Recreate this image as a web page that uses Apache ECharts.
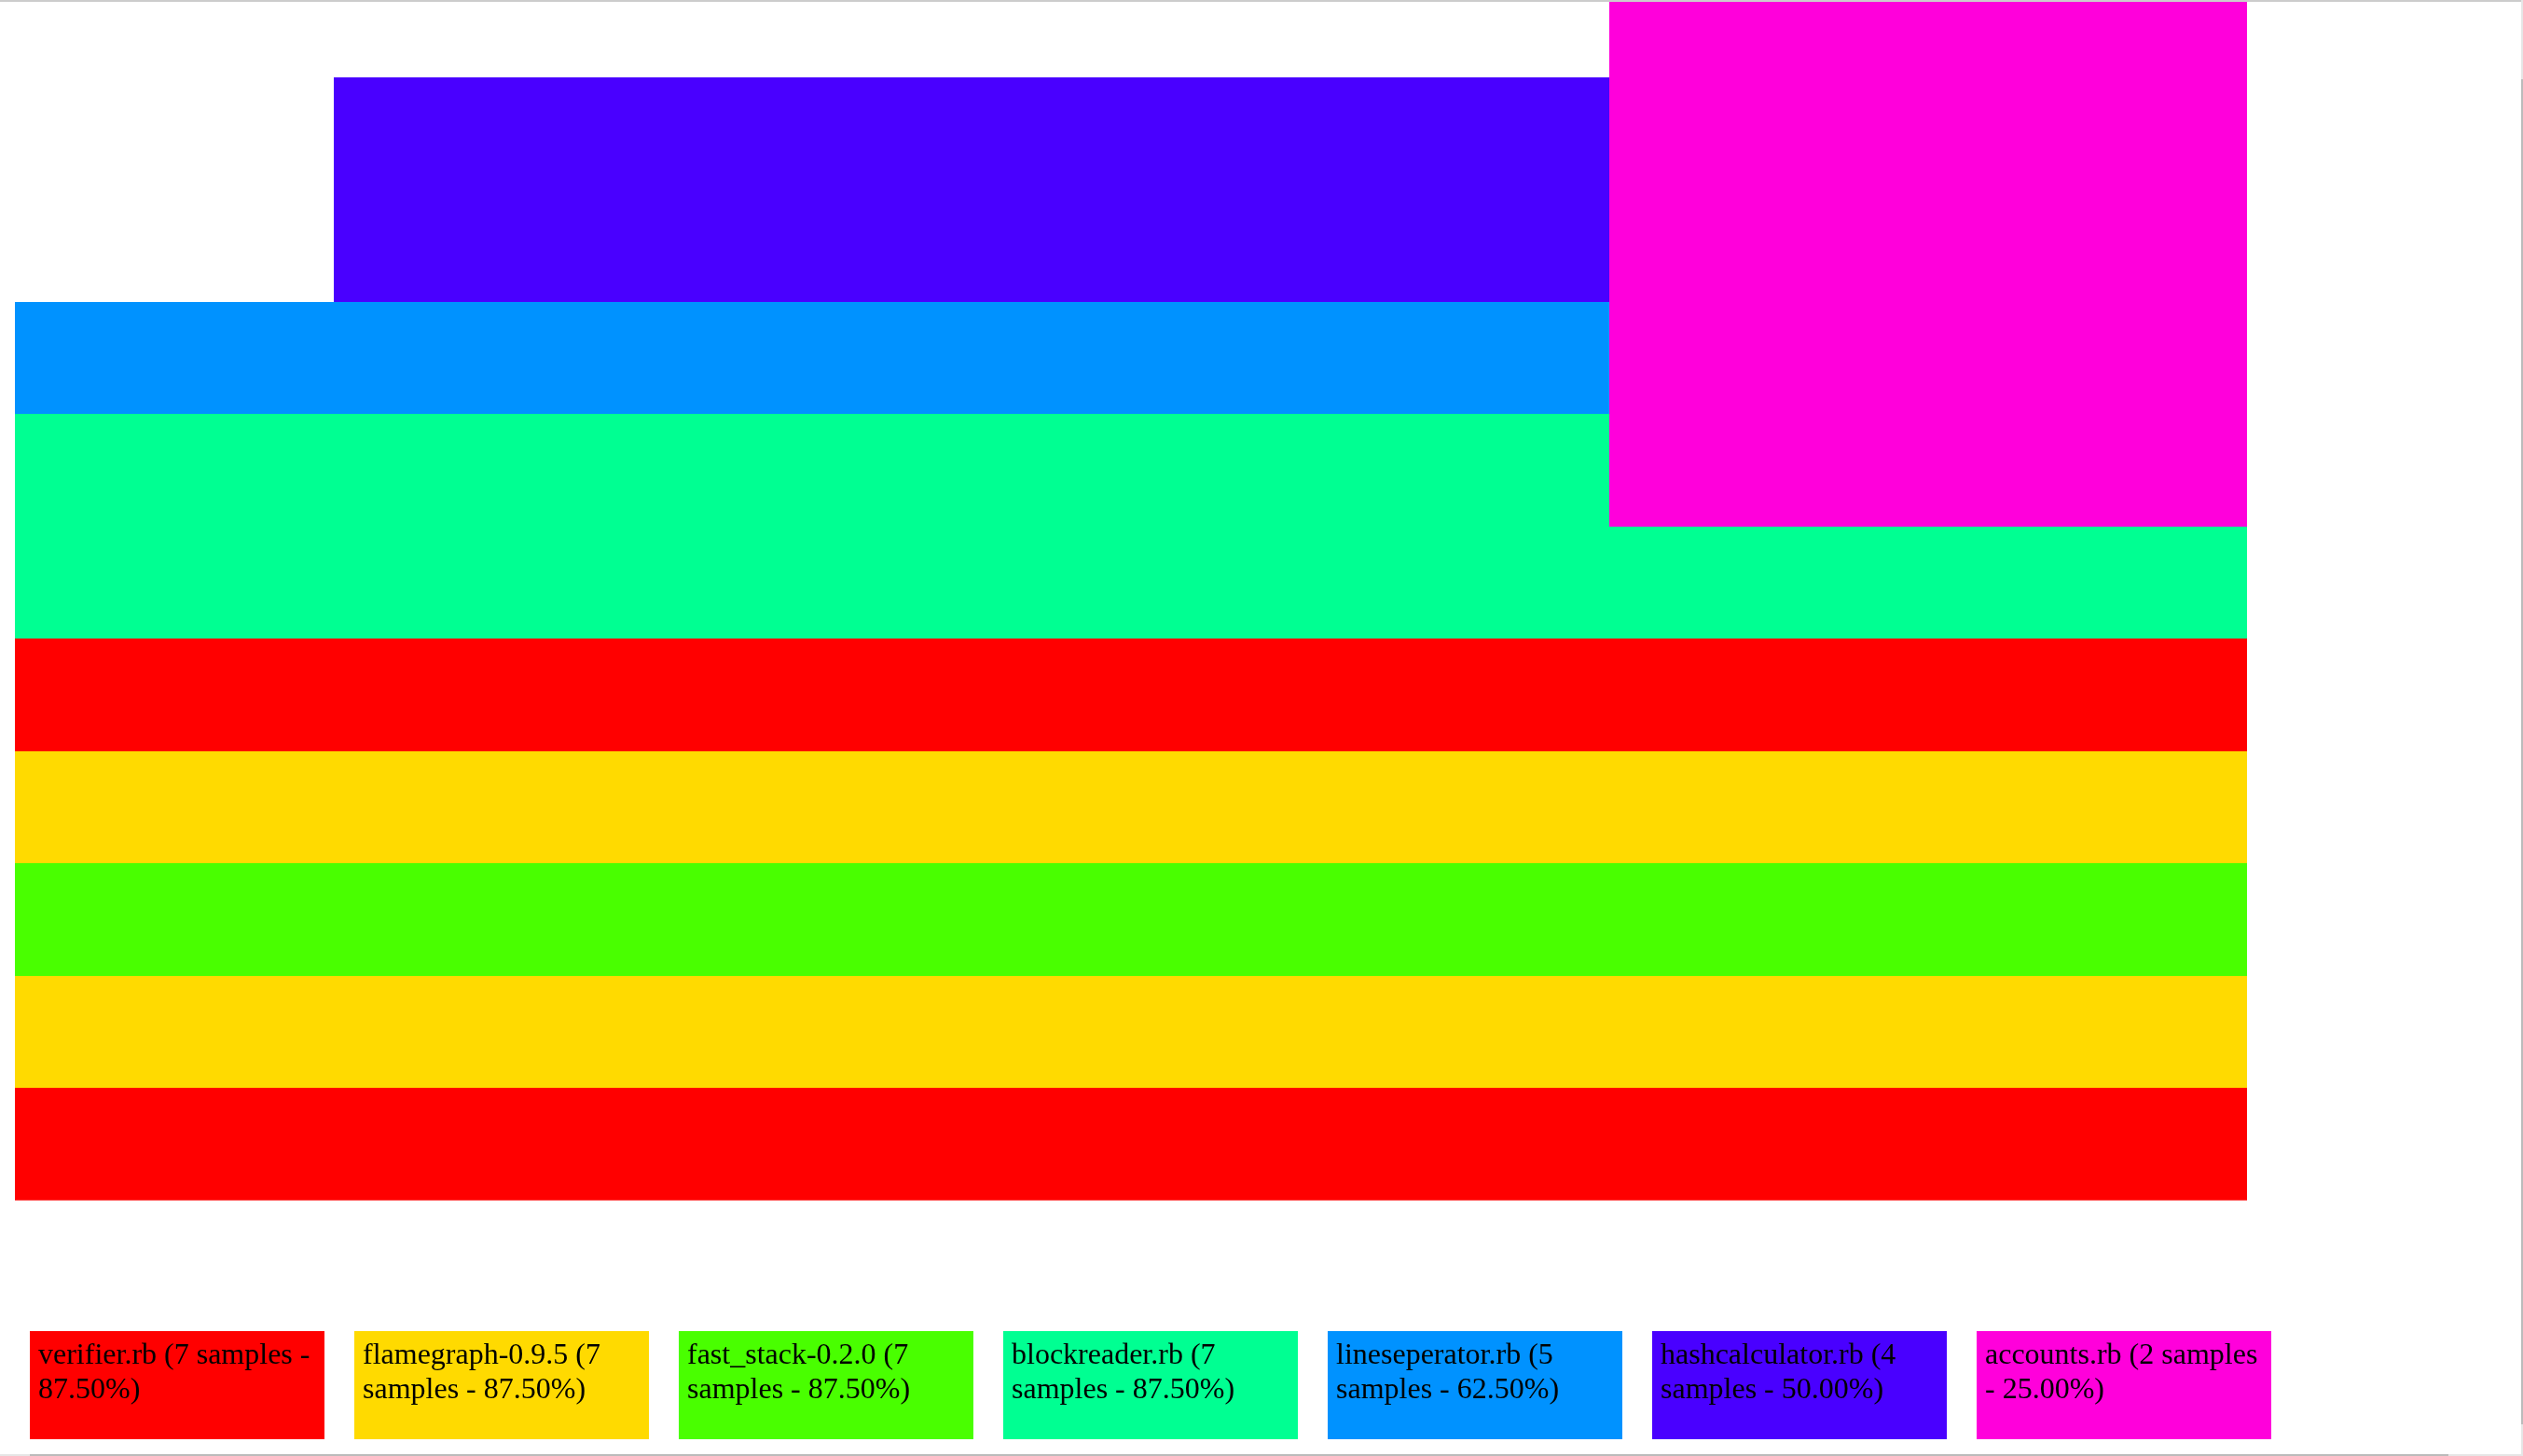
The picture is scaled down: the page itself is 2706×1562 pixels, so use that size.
<!DOCTYPE html>
<html>
<head>
<meta charset="utf-8">
<script src="https://cdn.jsdelivr.net/npm/echarts@6/dist/echarts.min.js"></script>
<style>
html,body{margin:0;padding:0;background:#fff;overflow:hidden;}
#chart{width:2706px;height:1562px;}
</style>
</head>
<body>
<div id="chart"></div>
<script>
// ---- data ----
const files = ['verifier.rb', 'flamegraph-0.9.5', 'fast_stack-0.2.0', 'blockreader.rb', 'lineseperator.rb', 'hashcalculator.rb', 'accounts.rb'];
const fileSamples = [7, 7, 7, 7, 5, 4, 2];
const fileColors = ['#FF0000', '#FFDA00', '#49FF00', '#00FF92', '#0092FF', '#4900FF', '#FF00DB'];
const totalSamples = 8;

// flame frames: file index, stack depth, start sample, sample count
const frameFile  = [0, 1, 2, 1, 0, 3, 3, 6, 4, 6, 5, 6, 5, 6, 6];
const frameDepth = [0, 1, 2, 3, 4, 5, 6, 6, 7, 7, 8, 8, 9, 9, 10];
const frameStart = [0, 0, 0, 0, 0, 0, 0, 5, 0, 5, 1, 5, 1, 5, 5];
const frameCount = [7, 7, 7, 7, 7, 7, 5, 2, 5, 2, 4, 2, 4, 2, 2];

const flameData = frameFile.map((f, i) => [frameStart[i], frameStart[i] + frameCount[i], frameDepth[i], f]);
const legendData = files.map((f, i) => [f, 1, i]);

const FONT_FAMILY = '"Liberation Serif", "Times New Roman", serif';
const FONT_SIZE = 32;
const measureCtx = document.createElement('canvas').getContext('2d');
measureCtx.font = FONT_SIZE + 'px ' + FONT_FAMILY;

function wrapText(str, maxW) {
  const words = str.split(' ');
  const lines = [];
  let cur = '';
  words.forEach(w => {
    const t = cur ? cur + ' ' + w : w;
    if (cur && measureCtx.measureText(t).width > maxW) {
      lines.push(cur);
      cur = w;
    } else {
      cur = t;
    }
  });
  if (cur) lines.push(cur);
  return lines.join('\n');
}

function legendLabel(i) {
  return files[i] + ' (' + fileSamples[i] + ' samples - ' + (fileSamples[i] / totalSamples * 100).toFixed(2) + '%)';
}

const chart = echarts.init(document.getElementById('chart'), null, {renderer: 'canvas'});
chart.setOption({
  backgroundColor: '#ffffff',
  animation: false,
  grid: [
    {left: 16, top: 2, right: 0, bottom: 274.3},
    {left: 16, top: 1428, width: 2436, height: 116}
  ],
  xAxis: [
    {type: 'value', gridIndex: 0, min: 0, max: 2690 / 342, show: false},
    {type: 'category', gridIndex: 1, data: files, show: false}
  ],
  yAxis: [
    {type: 'value', gridIndex: 0, min: 0, max: 10.67, show: false},
    {type: 'value', gridIndex: 1, min: 0, max: 1, show: false}
  ],
  series: [
    {
      type: 'custom',
      xAxisIndex: 0, yAxisIndex: 0,
      clip: true,
      data: flameData,
      renderItem: function (params, api) {
        const p0 = api.coord([api.value(0), api.value(2)]);
        const p1 = api.coord([api.value(1), api.value(2) + 1]);
        const x0 = Math.round(p0[0]), x1 = Math.round(p1[0]);
        const yb = Math.round(p0[1]), yt = Math.round(p1[1]);
        return {
          type: 'rect',
          shape: {x: x0, y: yt, width: x1 - x0, height: yb - yt},
          style: {fill: fileColors[api.value(3)]}
        };
      }
    },
    {
      type: 'custom',
      xAxisIndex: 1, yAxisIndex: 1,
      data: legendData,
      renderItem: function (params, api) {
        const idx = api.value(2);
        const c = api.coord([idx, 1]);
        const c0 = api.coord([idx, 0]);
        const band = api.size([1, 0])[0];
        const w = band - 32;
        const x = Math.round(c[0] - w / 2);
        const y = Math.round(c[1]);
        const h = Math.round(c0[1] - c[1]);
        return {
          type: 'group',
          children: [
            {type: 'rect', shape: {x: x, y: y, width: w, height: h}, style: {fill: fileColors[idx]}},
            {type: 'text', style: {
              text: wrapText(legendLabel(idx), w - 16), x: x + 9, y: y + 8,
              fontSize: FONT_SIZE, fontFamily: FONT_FAMILY,
              lineHeight: 36.8, fill: '#000000', verticalAlign: 'top', align: 'left'
            }}
          ]
        };
      }
    }
  ],
  graphic: [
    {type: 'rect', shape: {x: 0, y: 0, width: 2704, height: 2}, style: {fill: '#cccccc'}, z: 100},
    {type: 'rect', shape: {x: 2704, y: 0, width: 2, height: 85}, style: {fill: '#e6e6e6'}, z: 100},
    {type: 'rect', shape: {x: 2704, y: 85, width: 2, height: 1443}, style: {fill: '#bbbbbb'}, z: 100},
    {type: 'rect', shape: {x: 2704, y: 1528, width: 2, height: 34}, style: {fill: '#e6e6e6'}, z: 100},
    {type: 'rect', shape: {x: 0, y: 1560, width: 32, height: 2}, style: {fill: '#e6e6e6'}, z: 100},
    {type: 'rect', shape: {x: 32, y: 1560, width: 2594, height: 2}, style: {fill: '#bbbbbb'}, z: 100},
    {type: 'rect', shape: {x: 2626, y: 1560, width: 78, height: 2}, style: {fill: '#e6e6e6'}, z: 100}
  ]
});
</script>
</body>
</html>
